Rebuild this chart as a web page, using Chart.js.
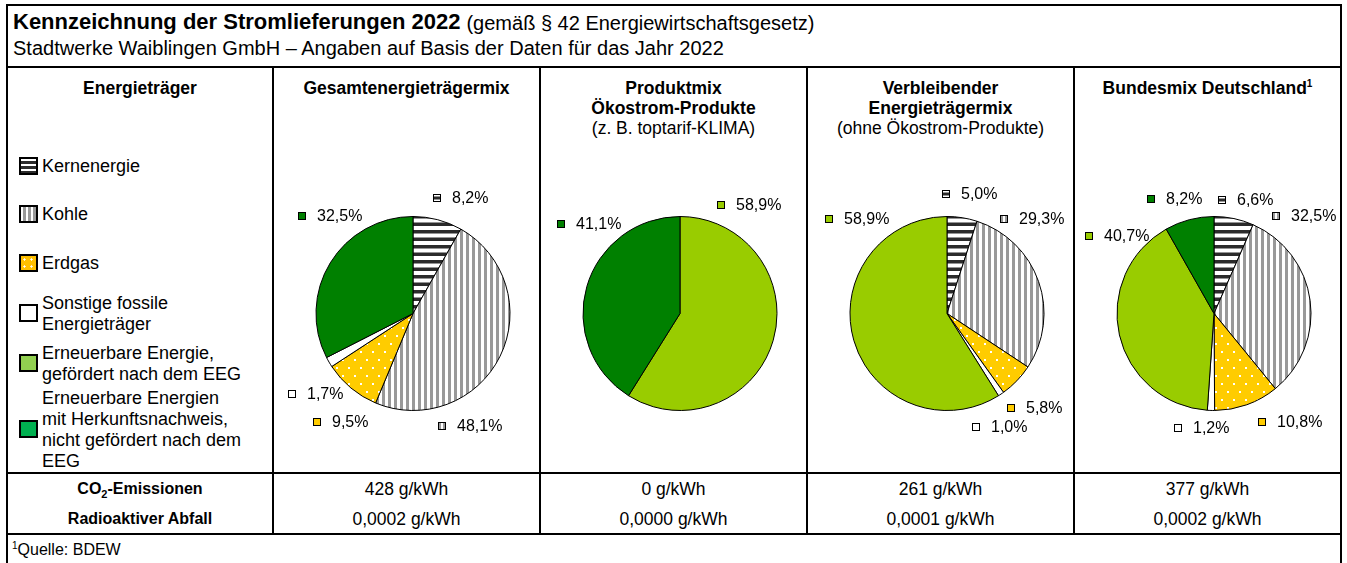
<!DOCTYPE html>
<html lang="de">
<head>
<meta charset="utf-8">
<title>Kennzeichnung der Stromlieferungen 2022</title>
<script src="https://cdn.jsdelivr.net/npm/chart.js@4.4.1/dist/chart.umd.min.js"></script>
<style>
  html, body { margin: 0; padding: 0; background: #fff; }
  body { width: 1347px; height: 563px; position: relative; overflow: hidden;
         font-family: "Liberation Sans", Arial, sans-serif; color: #000; }
  .line { position: absolute; background: #000; }
  .txt { position: absolute; white-space: nowrap; }
  .b { font-weight: bold; }
  canvas { position: absolute; }
  .ico { position: absolute; box-sizing: border-box; border: 2px solid #000; }
</style>
</head>
<body>
<script>
// Daten der Stromkennzeichnung
const energietraeger = ['Kernenergie', 'Kohle', 'Erdgas', 'Sonstige fossile Energieträger',
    'Erneuerbare Energie, gefördert nach dem EEG',
    'Erneuerbare Energien mit Herkunftsnachweis, nicht gefördert nach dem EEG'];
const legendeZeilen = [['Kernenergie'], ['Kohle'], ['Erdgas'], ['Sonstige fossile', 'Energieträger'],
    ['Erneuerbare Energie,', 'gefördert nach dem EEG'],
    ['Erneuerbare Energien', 'mit Herkunftsnachweis,', 'nicht gefördert nach dem', 'EEG']];
const gesamtMix = [8.2, 48.1, 9.5, 1.7, 0, 32.5];
const produktMix = [0, 0, 0, 0, 58.9, 41.1];
const restMix = [5.0, 29.3, 5.8, 1.0, 58.9, 0];
const bundesMix = [6.6, 32.5, 10.8, 1.2, 40.7, 8.2];
const co2Werte = [428, 0, 261, 377];
const abfallWerte = [0.0002, 0.0000, 0.0001, 0.0002];

// Kopfzeilen der Spalten
const spaltenKopf = [
    [{t: 'Energieträger', b: true}],
    [{t: 'Gesamtenergieträgermix', b: true}],
    [{t: 'Produktmix', b: true}, {t: 'Ökostrom-Produkte', b: true}, {t: '(z. B. toptarif-KLIMA)'}],
    [{t: 'Verbleibender', b: true}, {t: 'Energieträgermix', b: true}, {t: '(ohne Ökostrom-Produkte)'}],
    [{t: 'Bundesmix Deutschland', b: true, sup: '1'}]
];

// Lage der Beschriftungen (in Vielfachen des Radius, relativ zum Kreismittelpunkt)
const labelLage = [
    [[0.21, -1.19], [0.26, 1.16], [-1.03, 1.12], [-1.29, 0.83], null, [-1.19, -1.01]],
    [null, null, null, null, [0.38, -1.12], [-1.27, -0.92]],
    [[-0.05, -1.23], [0.55, -0.97], [0.62, 0.97], [0.26, 1.17], [-1.26, -0.97], null],
    [[0.04, -1.17], [0.60, -1.01], [0.45, 1.12], [-0.41, 1.18], [-1.33, -0.80], [-0.69, -1.18]]
];

const FONT = '"Liberation Sans", Arial, sans-serif';
const colX = [7, 273, 540, 807, 1074, 1341];   // Linien der Tabelle
const body = document.body;

function linie(x, y, w, h) {
    const d = document.createElement('div');
    d.className = 'line';
    Object.assign(d.style, {left: x + 'px', top: y + 'px', width: w + 'px', height: h + 'px'});
    body.appendChild(d);
}
function text(t, x, y, opts = {}) {
    const d = document.createElement('div');
    d.className = 'txt' + (opts.b ? ' b' : '');
    d.style.fontSize = (opts.size || 17) + 'px';
    d.style.lineHeight = '20px';
    d.style.top = (y - 10) + 'px';
    if (opts.center) {
        d.style.left = (x - 200) + 'px';
        d.style.width = '400px';
        d.style.textAlign = 'center';
    } else {
        d.style.left = x + 'px';
    }
    d.innerHTML = t;
    body.appendChild(d);
    return d;
}

// Rahmen und Tabellenlinien
linie(6, 4, 2, 570);
linie(1340, 4, 2, 570);
linie(6, 4, 1336, 2);
linie(6, 66, 1336, 2);
linie(6, 472, 1336, 2);
linie(6, 533, 1336, 2);
for (let i = 1; i < 5; i++) linie(colX[i] - 1, 66, 2, 468);

// Titel
const titel = text('Kennzeichnung der Stromlieferungen 2022', 13, 22, {b: true, size: 22});
const zusatz = text('(gemäß § 42 Energiewirtschaftsgesetz)', 0, 23, {size: 20});
zusatz.style.left = (13 + titel.getBoundingClientRect().width + 6) + 'px';
text('Stadtwerke Waiblingen GmbH – Angaben auf Basis der Daten für das Jahr 2022', 13, 48, {size: 20});

// Spaltenköpfe
spaltenKopf.forEach((zeilen, c) => {
    const mitte = (colX[c] + colX[c + 1]) / 2;
    zeilen.forEach((z, k) => {
        const t = z.sup ? z.t + '<sup style="font-size:10px;line-height:0">' + z.sup + '</sup>' : z.t;
        text(t, mitte, 88 + k * 20, {b: z.b, center: true, size: 17.5});
    });
});

// Legende in der ersten Spalte
const legendeY = [166, 214, 263, 313, 363, 429];
const legendeStil = [
    'background: repeating-linear-gradient(to bottom, #fff 0 2px, #2b2b2b 2px 5px)',
    'background: repeating-linear-gradient(to right, #fff 0 2px, #999 2px 5px)',
    'background-color: #ffc000; background-image: radial-gradient(circle, #fff 0.9px, transparent 1.3px); background-size: 7px 7px',
    'background: #fff',
    'background: #92d050',
    'background: #00b050'
];
legendeZeilen.forEach((zeilen, i) => {
    const ico = document.createElement('div');
    ico.className = 'ico';
    ico.style.cssText += legendeStil[i] + '; left:19px; width:19px; height:18px; top:' + (legendeY[i] - 9) + 'px';
    body.appendChild(ico);
    const start = legendeY[i] - (zeilen.length - 1) * 10.5;
    zeilen.forEach((z, k) => text(z, 42, start + k * 21, {size: 18}));
});

// Emissionen und Abfall
const fmt = (v, d) => v.toFixed(d).replace('.', ',');
text('CO<sub style="font-size:11px;line-height:0">2</sub>-Emissionen', (colX[0] + colX[1]) / 2, 489, {b: true, center: true, size: 16});
text('Radioaktiver Abfall', (colX[0] + colX[1]) / 2, 519, {b: true, center: true, size: 16});
co2Werte.forEach((v, i) => text(v + ' g/kWh', (colX[i + 1] + colX[i + 2]) / 2, 489, {center: true, size: 17.5}));
abfallWerte.forEach((v, i) => text(fmt(v, 4) + ' g/kWh', (colX[i + 1] + colX[i + 2]) / 2, 519, {center: true, size: 17.5}));
text('<sup style="font-size:10px;line-height:0">1</sup>Quelle: BDEW', 12, 550, {size: 16});

// Muster für die Kreissegmente
function muster(art) {
    const c = document.createElement('canvas');
    const g = c.getContext('2d');
    if (art === 'kern') {
        c.width = 8; c.height = 15;
        g.fillStyle = '#fff'; g.fillRect(0, 0, 8, 15);
        g.fillStyle = '#2b2b2b'; g.fillRect(0, 0, 8, 3.5); g.fillRect(0, 7.5, 8, 3.5);
    } else if (art === 'kohle') {
        c.width = 6; c.height = 6;
        g.fillStyle = '#fff'; g.fillRect(0, 0, 6, 6);
        g.fillStyle = '#999'; g.fillRect(0, 0, 3, 6);
    } else {
        c.width = 12; c.height = 16;
        g.fillStyle = '#ffcc00'; g.fillRect(0, 0, 12, 16);
        g.fillStyle = '#fff'; g.fillRect(2, 3, 2, 2); g.fillRect(8, 11, 2, 2);
    }
    return g.createPattern(c, 'repeat');
}
const fuellung = [muster('kern'), muster('kohle'), muster('gas'), '#ffffff', '#99cc00', '#008000'];

function kleinesIcon(ctx, i, x, y) {
    ctx.fillStyle = ['#fff', '#fff', '#ffcc00', '#fff', '#99cc00', '#008000'][i];
    ctx.fillRect(x, y - 4, 8, 8);
    ctx.fillStyle = i === 0 ? '#2b2b2b' : '#999';
    if (i === 0) ctx.fillRect(x, y - 1.5, 8, 3);
    if (i === 1) { ctx.fillRect(x + 1, y - 4, 2, 8); ctx.fillRect(x + 5, y - 4, 2, 8); }
    ctx.strokeStyle = '#000'; ctx.lineWidth = 1;
    ctx.strokeRect(x + 0.5, y - 3.5, 7, 7);
}

const labelPlugin = {
    id: 'mixLabels',
    afterDatasetsDraw(chart, args, opts) {
        const ctx = chart.ctx;
        const werte = chart.data.datasets[0].data;
        chart.getDatasetMeta(0).data.forEach((arc, i) => {
            const lage = opts.lage[i];
            if (!werte[i] || !lage) return;
            const {x, y, outerRadius} = arc.getProps(['x', 'y', 'outerRadius'], true);
            const lx = Math.round(x + lage[0] * outerRadius), ly = Math.round(y + lage[1] * outerRadius);
            ctx.save();
            kleinesIcon(ctx, i, lx, ly);
            ctx.fillStyle = '#000';
            ctx.font = '16px ' + FONT;
            ctx.textBaseline = 'middle';
            ctx.fillText(fmt(werte[i], 1) + '%', lx + 19, ly + 1);
            ctx.restore();
        });
    }
};

// Kreisdiagramme
const mixe = [gesamtMix, produktMix, restMix, bundesMix];
const top0 = 140, hoehe = 330, radius = 97.5, cy = 313.5;
mixe.forEach((werte, k) => {
    const links = colX[k + 1] + 1, breite = colX[k + 2] - colX[k + 1] - 2;
    const cx = (colX[k + 1] + colX[k + 2]) / 2 + 6.5;
    const cv = document.createElement('canvas');
    cv.width = breite; cv.height = hoehe;
    cv.style.left = links + 'px'; cv.style.top = top0 + 'px';
    cv.style.width = breite + 'px'; cv.style.height = hoehe + 'px';
    body.appendChild(cv);
    const pl = cx - radius - links, pt = cy - radius - top0;
    new Chart(cv.getContext('2d'), {
        type: 'pie',
        data: {
            labels: energietraeger,
            datasets: [{
                data: werte,
                backgroundColor: fuellung,
                borderColor: '#000',
                borderWidth: 1,
                hoverOffset: 0
            }]
        },
        options: {
            responsive: false,
            animation: false,
            events: [],
            layout: {padding: {left: pl, top: pt, right: breite - pl - 2 * radius, bottom: hoehe - pt - 2 * radius}},
            plugins: {
                legend: {display: false},
                tooltip: {enabled: false},
                mixLabels: {lage: labelLage[k]}
            }
        },
        plugins: [labelPlugin]
    });
});
</script>
</body>
</html>
